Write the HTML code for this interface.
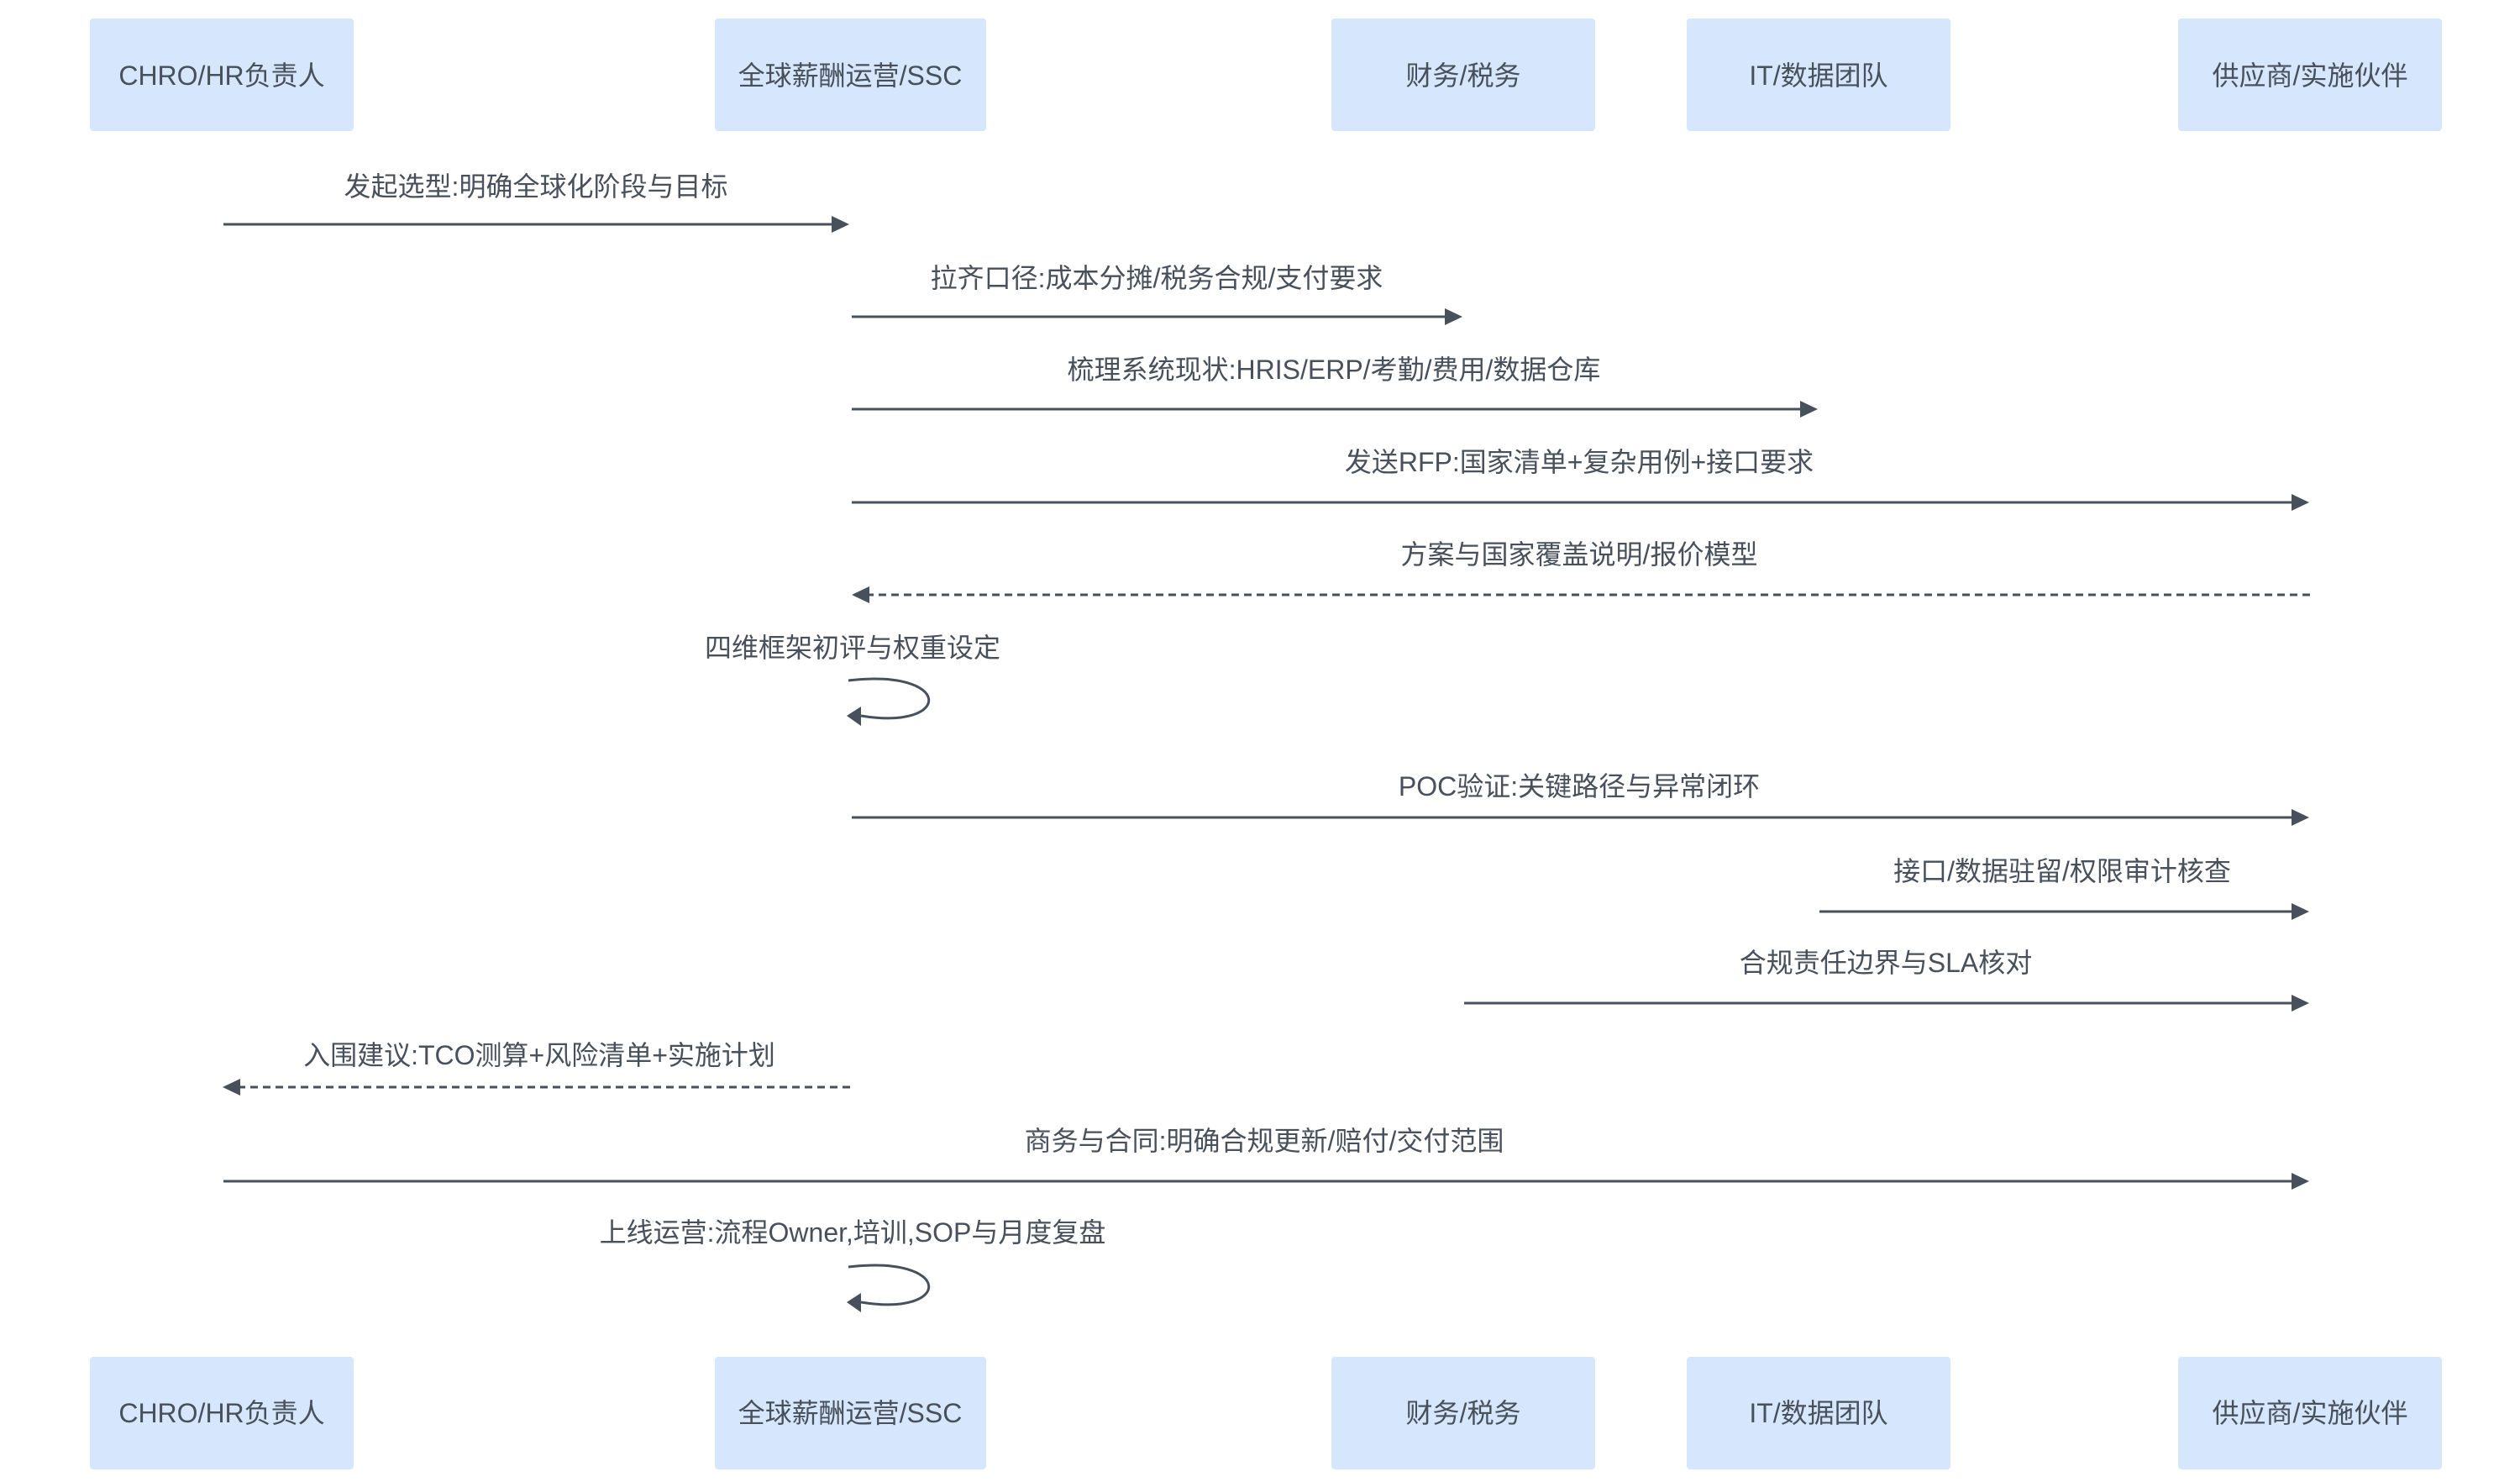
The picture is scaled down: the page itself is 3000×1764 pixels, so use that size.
<!DOCTYPE html>
<html><head><meta charset="utf-8"><style>
html,body{margin:0;padding:0;background:#fff;}
svg{display:block;}
text{font-family:"Liberation Sans","Noto Sans CJK SC",sans-serif;fill:#47505b;font-size:32px;}
</style></head><body>
<svg width="3000" height="1764" viewBox="0 0 3000 1764" xmlns="http://www.w3.org/2000/svg">
<defs>
<marker id="a" markerWidth="10" markerHeight="10" refX="9" refY="5" orient="auto" markerUnits="userSpaceOnUse" viewBox="0 0 10 10">
</marker>
</defs>
<g fill="#d6e7fd">
<rect x="107" y="22" width="314" height="134" rx="4"/>
<rect x="851" y="22" width="323" height="134" rx="4"/>
<rect x="1585" y="22" width="314" height="134" rx="4"/>
<rect x="2008" y="22" width="314" height="134" rx="4"/>
<rect x="2593" y="22" width="314" height="134" rx="4"/>
<rect x="107" y="1615" width="314" height="134" rx="4"/>
<rect x="851" y="1615" width="323" height="134" rx="4"/>
<rect x="1585" y="1615" width="314" height="134" rx="4"/>
<rect x="2008" y="1615" width="314" height="134" rx="4"/>
<rect x="2593" y="1615" width="314" height="134" rx="4"/>
</g>
<g text-anchor="middle" dominant-baseline="central">
<text x="264" y="90">CHRO/HR负责人</text>
<text x="1012" y="90">全球薪酬运营/SSC</text>
<text x="1742" y="90">财务/税务</text>
<text x="2165" y="90">IT/数据团队</text>
<text x="2750" y="90">供应商/实施伙伴</text>
<text x="264" y="1682">CHRO/HR负责人</text>
<text x="1012" y="1682">全球薪酬运营/SSC</text>
<text x="1742" y="1682">财务/税务</text>
<text x="2165" y="1682">IT/数据团队</text>
<text x="2750" y="1682">供应商/实施伙伴</text>

<text x="638" y="222">发起选型:明确全球化阶段与目标</text>
<text x="1377" y="331">拉齐口径:成本分摊/税务合规/支付要求</text>
<text x="1588" y="440">梳理系统现状:HRIS/ERP/考勤/费用/数据仓库</text>
<text x="1880" y="550">发送RFP:国家清单+复杂用例+接口要求</text>
<text x="1880" y="660">方案与国家覆盖说明/报价模型</text>
<text x="1015" y="771">四维框架初评与权重设定</text>
<text x="1880" y="936">POC验证:关键路径与异常闭环</text>
<text x="2455" y="1037">接口/数据驻留/权限审计核查</text>
<text x="2245" y="1146">合规责任边界与SLA核对</text>
<text x="642" y="1256">入围建议:TCO测算+风险清单+实施计划</text>
<text x="1505" y="1358">商务与合同:明确合规更新/赔付/交付范围</text>
<text x="1015" y="1467">上线运营:流程Owner,培训,SOP与月度复盘</text>
</g>
<g stroke="#47505b" stroke-width="3" fill="none">
<line x1="266" y1="267" x2="996" y2="267"/>
<line x1="1014" y1="377" x2="1726" y2="377"/>
<line x1="1014" y1="487" x2="2149" y2="487"/>
<line x1="1014" y1="598" x2="2734" y2="598"/>
<line x1="2750" y1="708" x2="1030" y2="708" stroke-dasharray="9,6"/>
<path d="M1010 810 C1135 795 1135 870 1025 852"/>
<line x1="1014" y1="973" x2="2734" y2="973"/>
<line x1="2166" y1="1085" x2="2734" y2="1085"/>
<line x1="1743" y1="1194" x2="2734" y2="1194"/>
<line x1="1012" y1="1294" x2="282" y2="1294" stroke-dasharray="9,6"/>
<line x1="266" y1="1406" x2="2734" y2="1406"/>
<path d="M1010 1508 C1135 1493 1135 1568 1025 1550"/>
</g>
<g fill="#47505b">
<polygon points="1011,267 990,257 990,277"/>
<polygon points="1741,377 1720,367 1720,387"/>
<polygon points="2164,487 2143,477 2143,497"/>
<polygon points="2749,598 2728,588 2728,608"/>
<polygon points="1014,708 1035,698 1035,718"/>
<polygon points="1008,852 1025,841 1025,864"/>
<polygon points="2749,973 2728,963 2728,983"/>
<polygon points="2749,1085 2728,1075 2728,1095"/>
<polygon points="2749,1194 2728,1184 2728,1204"/>
<polygon points="265,1294 286,1284 286,1304"/>
<polygon points="2749,1406 2728,1396 2728,1416"/>
<polygon points="1008,1550 1025,1539 1025,1562"/>
</g>
</svg>
</body></html>
